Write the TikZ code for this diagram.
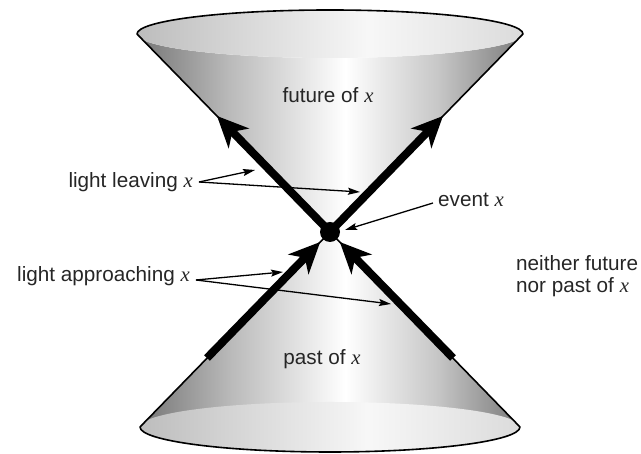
\documentclass[tikz,border=0pt]{standalone}
\usepackage{fontspec}
\setmainfont{Liberation Sans}
\newfontfamily\varfont{Liberation Serif}
\usetikzlibrary{arrows.meta, calc}
\newcommand{\evx}{{\varfont\itshape x}}
\pgfdeclarehorizontalshading{conesurf}{100bp}{color(0bp)=(black!54); color(25bp)=(black!54); color(37bp)=(black!27); color(52bp)=(white); color(64bp)=(black!22); color(75bp)=(black!52); color(100bp)=(black!52)}
\pgfdeclarehorizontalshading{rimsurf}{100bp}{color(0bp)=(black!26); color(25bp)=(black!26); color(55bp)=(black!3); color(75bp)=(black!14); color(100bp)=(black!14)}

\begin{document}
\begin{tikzpicture}[
    x=1pt, y=1pt,
    every node/.style={font=\fontsize{20.7}{22.5}\selectfont, text=black!85},
    rimline/.style={
        draw=black, 
        line width=1.6pt, 
        line join=round
    },
    lightray/.style={
        line width=8pt, 
        -{Stealth[length=31pt, width=28pt, inset=9pt]}
    },
    pointer/.style={
        line width=1.3pt, 
        -{Stealth[length=12pt, width=7pt, inset=2pt]}
    },
    label/.style={
        inner sep=1pt
    }
]
\useasboundingbox (0,0) rectangle (641,454);

% ==================== CONE GEOMETRY ====================

\coordinate (event) at (330,222);
\coordinate (topC) at (330,420);
\coordinate (topL) at (137,420);
\coordinate (botC) at (330,27);
\coordinate (botL) at (140,27);

% future cone
\shade[shading=conesurf] (event) -- (topL) arc[start angle=180, end angle=360, x radius=193, y radius=24] -- cycle;
\shade[shading=rimsurf] (topC) ellipse[x radius=193, y radius=24];
\draw[rimline] (event) -- (topL) arc[start angle=180, end angle=0, x radius=193, y radius=24] -- cycle;

% past cone
\shade[shading=conesurf] (event) -- (botL) arc[start angle=180, end angle=360, x radius=190, y radius=25] -- cycle;
\shade[shading=rimsurf] (botC) ellipse[x radius=190, y radius=25];
\draw[rimline] (event) -- (botL) arc[start angle=180, end angle=360, x radius=190, y radius=25] -- cycle;

% ==================== LIGHT RAYS ====================

\coordinate (outL) at (217,338);
\coordinate (outR) at (443,338);
\coordinate (inLstart) at (207,96);
\coordinate (inRstart) at (453,96);
\coordinate (inLend) at (320.2,212);
\coordinate (inRend) at (339.8,212);

\draw[lightray] (event) -- (outL);
\draw[lightray] (event) -- (outR);
\draw[lightray] (inLstart) -- (inLend);
\draw[lightray] (inRstart) -- (inRend);

\node (dot) [circle, fill=black, minimum size=20pt, inner sep=0pt] at (event) {};

% ==================== LABELS ====================

\node (future) [label] at (328,359) {future of \evx};
\node (past) [label] at (322,95) {past of \evx};
\node (leaving) [label, anchor=east] at (194,272) {light leaving \evx};
\node (approach) [label, anchor=east] at (191,178) {light approaching \evx};
\node (evlabel) [label, anchor=west] at (437,254) {event \evx};
\node (neither) [label, anchor=west, align=left] at (515,178) {neither future\\nor past of \evx};

\coordinate (leavingA) at (255,284);
\coordinate (leavingB) at (360,262);
\coordinate (approachA) at (283,182);
\coordinate (approachB) at (391,150);
\coordinate (dotmark) at (345,224);

\draw[pointer] (leaving.east) ++(5,0) -- (leavingA);
\draw[pointer] (leaving.east) ++(5,0) -- (leavingB);
\draw[pointer] (approach.east) ++(5,-4) -- (approachA);
\draw[pointer] (approach.east) ++(5,-4) -- (approachB);
\draw[pointer] (evlabel.west) ++(-4,-3) -- (dotmark);

\end{tikzpicture}
\end{document}
